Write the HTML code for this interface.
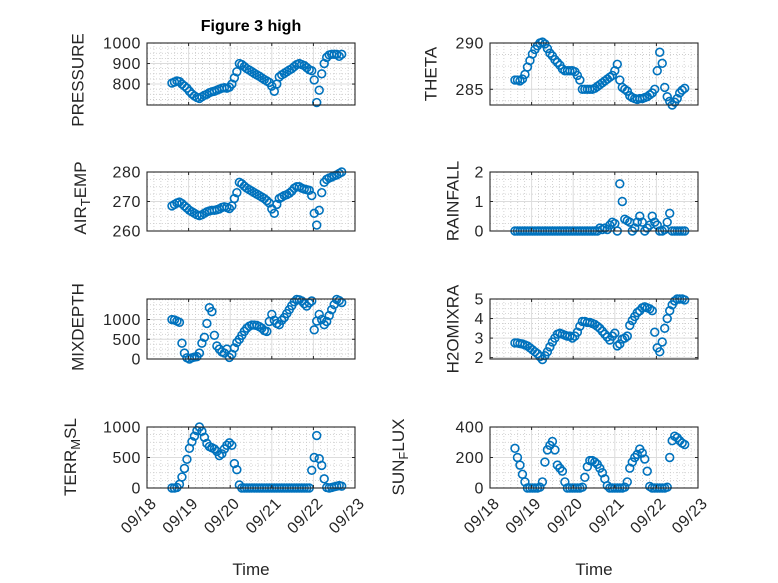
<!DOCTYPE html>
<html><head><meta charset="utf-8"><style>
html,body{margin:0;padding:0;background:#fff}
svg{display:block;font-family:"Liberation Sans",sans-serif}
</style></head><body>
<svg id="fig" width="778" height="583" viewBox="0 0 778 583" xmlns="http://www.w3.org/2000/svg">
<rect width="778" height="583" fill="#fff"/>
<text x="251" y="31" text-anchor="middle" font-size="16" font-weight="bold" fill="#000">Figure 3 high</text>
</svg>
<script>
const times = [0.60,0.66,0.72,0.78,0.84,0.90,0.96,1.02,1.08,1.14,1.20,1.26,1.32,1.38,1.44,1.50,1.56,1.62,1.68,1.74,1.80,1.86,1.92,1.98,2.04,2.10,2.16,2.22,2.28,2.34,2.40,2.46,2.52,2.58,2.64,2.70,2.76,2.82,2.88,2.94,3.00,3.06,3.12,3.18,3.24,3.30,3.36,3.42,3.48,3.54,3.60,3.66,3.72,3.78,3.84,3.90,3.96,4.02,4.08,4.14,4.20,4.26,4.32,4.38,4.44,4.50,4.56,4.62,4.68];
const xTickLabels = ["09/18","09/19","09/20","09/21","09/22","09/23"];
const pressure = [805,810,815,812,800,790,780,765,752,742,735,730,738,745,750,758,762,765,770,775,780,782,780,785,800,830,860,900,895,885,875,868,860,852,845,838,830,822,815,808,790,765,800,835,845,852,860,868,875,885,895,900,895,890,880,870,865,820,710,770,850,900,930,942,945,945,945,935,945];
const theta = [286,286,285.9,286.1,286.6,287.4,288.1,288.8,289.3,289.7,290,290.1,289.9,289.4,288.9,288.6,288.2,287.9,287.6,287.2,287,287,287,287,286.9,286.5,286,285,285,285,285,285,285.1,285.3,285.5,285.7,285.9,286.1,286.3,286.5,287,287.7,286,285.2,285,284.8,284.3,284.1,284,283.9,284,284,284.1,284.2,284.4,284.6,285,287,289,287.8,285.2,284.2,283.7,283.3,283.6,284,284.6,284.9,285.1];
const airTemp = [268.5,269,269.5,269.8,269.3,268.5,267.8,267,266.5,266,265.5,265.2,265.5,266,266.5,266.8,267,267,267.2,267.5,268,268.2,268,267.6,268.5,271,273,276.5,276,275.2,274.5,274,273.5,273,272.5,272,271.5,271,270.3,269.5,267.5,266,269,271,271.5,272,272.3,272.8,273.5,274.5,275,275,274.5,274.2,274,273.8,272,266,262,267,273,276.5,277.5,278,278.3,278.7,279,279.5,280];
const rainfall = [0,0,0,0,0,0,0,0,0,0,0,0,0,0,0,0,0,0,0,0,0,0,0,0,0,0,0,0,0,0,0,0,0,0,0.1,0.05,0.1,0.05,0.2,0.3,0.25,0,1.6,1.0,0.4,0.35,0.3,0,0.1,0.3,0.5,0.3,0,0.1,0.2,0.5,0.3,0.2,0,0,0.05,0.3,0.6,0,0,0,0,0,0];
const mixDepth = [1000,990,960,930,400,150,30,0,30,50,60,150,400,550,900,1300,1200,600,330,250,180,150,250,40,120,280,420,500,600,700,780,830,860,860,850,820,780,720,700,950,1130,980,900,870,980,1050,1150,1250,1350,1450,1510,1500,1470,1400,1340,1420,1470,740,960,1130,1000,870,950,1100,1250,1380,1510,1480,1430];
const h2oMixRa = [2.75,2.75,2.72,2.7,2.65,2.6,2.5,2.4,2.3,2.2,2.05,1.9,2.1,2.3,2.55,2.8,3.0,3.2,3.25,3.2,3.15,3.1,3.1,3.0,3.1,3.3,3.6,3.85,3.85,3.8,3.8,3.75,3.7,3.6,3.5,3.35,3.2,3.05,2.9,3.1,3.25,2.6,2.7,2.95,3.0,3.1,3.65,3.9,4.1,4.3,4.4,4.55,4.6,4.55,4.5,4.4,3.3,2.5,2.3,2.8,3.5,4.0,4.4,4.7,4.9,5.0,5.0,5.0,4.95];
const terrMsl = [0,0,10,60,180,320,470,650,760,850,940,1000,930,830,730,680,660,640,600,530,560,640,700,740,700,400,300,50,0,0,0,0,0,0,0,0,0,0,0,0,0,0,0,0,0,0,0,0,0,0,0,0,0,0,0,0,290,500,860,480,370,150,10,0,10,20,30,40,30];
const sunFlux = [260,200,150,90,40,0,0,0,0,0,5,40,170,250,280,305,250,150,130,110,40,0,0,0,0,0,0,5,70,140,180,180,170,155,130,100,60,15,0,0,0,0,0,0,5,40,130,170,200,220,255,230,190,110,10,0,0,0,0,0,0,5,200,310,340,330,310,295,285];

const svg = document.getElementById('fig');
const NS = 'http://www.w3.org/2000/svg';
function mk(tag, attrs, parent){const e=document.createElementNS(NS,tag);for(const k in attrs)e.setAttribute(k,attrs[k]);(parent||svg).appendChild(e);return e;}

function panel(cfg){
  const {x0,x1,y0,y1,ymin,ymax,yticks,data,name,label,lx,ly,xlab,ysub} = cfg;
  const g = mk('g',{});
  
  
  const sx = t => x0 + (t-0)/(5-0)*(x1-x0);
  const sy = v => y1 - (v-ymin)/(ymax-ymin)*(y1-y0);
  for(let d=0; d<5; d++) for(let k=1;k<6;k++){
    const x=sx(d+k/6);
    mk('line',{x1:x,x2:x,y1:y0,y2:y1,stroke:'#c8c8c8','stroke-width':0.8,'stroke-dasharray':'1 2'},g);
  }
  const ystep = yticks[1]-yticks[0];
  for(let v=yticks[0]-ystep; v<=ymax+1e-9; v+=ystep/4){
    if(v<ymin-1e-9) continue;
    const y=sy(v);
    mk('line',{x1:x0,x2:x1,y1:y,y2:y,stroke:'#c8c8c8','stroke-width':0.8,'stroke-dasharray':'1 2'},g);
  }
  for(let d=1; d<5; d++){const x=sx(d);mk('line',{x1:x,x2:x,y1:y0,y2:y1,stroke:'#dcdcdc','stroke-width':1},g);}
  yticks.forEach(v=>{const y=sy(v);if(y>y0+0.5&&y<y1-0.5)mk('line',{x1:x0,x2:x1,y1:y,y2:y,stroke:'#dcdcdc','stroke-width':1},g);});
  const mg = mk('g',{fill:'none',stroke:'#0072BD','stroke-width':1.6},g);
  
  
  times.forEach((t,i)=>{
    const c = mk('circle',{cx:sx(t),cy:sy(data[i]),r:3.9},mg);
    
    
  });
  mk('rect',{x:x0,y:y0,width:x1-x0,height:y1-y0,fill:'none',stroke:'#262626','stroke-width':1.1},g);
  for(let d=0; d<=5; d++){const x=sx(d);
    mk('line',{x1:x,x2:x,y1:y1,y2:y1-3,stroke:'#262626'},g);
    mk('line',{x1:x,x2:x,y1:y0,y2:y0+3,stroke:'#262626'},g);}
  yticks.forEach(v=>{const y=sy(v);
    mk('line',{x1:x0,x2:x0+3,y1:y,y2:y,stroke:'#262626'},g);
    mk('line',{x1:x1,x2:x1-3,y1:y,y2:y,stroke:'#262626'},g);
    const tx = mk('text',{x:x0-6,y:y+5.5,'text-anchor':'end','font-size':16,fill:'#262626','letter-spacing':'0.6'},g);
    tx.textContent = String(v);
    
    
  });
  if(xlab){
    xTickLabels.forEach((s,d)=>{
      const x=sx(d)+3, y=y1+9;
      const tx = mk('text',{x:x,y:y,'text-anchor':'end','font-size':16,fill:'#262626','letter-spacing':'0.5',transform:`rotate(-45 ${x} ${y})`,'dominant-baseline':'hanging'},g);
      tx.textContent = s;
      
      
    });
    const tl = mk('text',{x:(x0+x1)/2,y:575,'text-anchor':'middle','font-size':17,fill:'#262626'},g);
    tl.textContent='Time';
    
    
  }
  const yl = mk('text',{x:lx,y:ly,'text-anchor':'middle','font-size':17,fill:'#262626','dominant-baseline':'central',transform:`rotate(-90 ${lx} ${ly})`},g);
  
  
  if(ysub){
    const a=mk('tspan',{},yl);a.textContent=ysub[0];
    const b=mk('tspan',{dy:5,'font-size':13},yl);b.textContent=ysub[1];
    const c=mk('tspan',{dy:-5},yl);c.textContent=ysub[2];
  } else yl.textContent = label;
}

const L0=147,L1=355,R0=490,R1=698;
panel({x0:L0,x1:L1,y0:43,y1:105,ymin:698,ymax:1000,yticks:[800,900,1000],data:pressure,name:'pressure',label:'PRESSURE',lx:78,ly:80});
panel({x0:R0,x1:R1,y0:43,y1:105,ymin:283.3,ymax:290,yticks:[285,290],data:theta,name:'theta',label:'THETA',lx:431,ly:74});
panel({x0:L0,x1:L1,y0:172,y1:231,ymin:260,ymax:280,yticks:[260,270,280],data:airTemp,name:'air-temp',lx:80,ly:198,ysub:['AIR','T','EMP']});
panel({x0:R0,x1:R1,y0:172,y1:231,ymin:0,ymax:2,yticks:[0,1,2],data:rainfall,name:'rainfall',label:'RAINFALL',lx:453,ly:201});
panel({x0:L0,x1:L1,y0:299,y1:359,ymin:0,ymax:1520,yticks:[0,500,1000],data:mixDepth,name:'mixdepth',label:'MIXDEPTH',lx:78,ly:327});
panel({x0:R0,x1:R1,y0:299,y1:359,ymin:1.93,ymax:5,yticks:[2,3,4,5],data:h2oMixRa,name:'h2omixra',label:'H2OMIXRA',lx:453,ly:329});
panel({x0:L0,x1:L1,y0:427,y1:488,ymin:0,ymax:1000,yticks:[0,500,1000],data:terrMsl,name:'terr-msl',lx:70,ly:457,ysub:['TERR','M','SL'],xlab:true});
panel({x0:R0,x1:R1,y0:427,y1:488,ymin:0,ymax:400,yticks:[0,200,400],data:sunFlux,name:'sun-flux',lx:398,ly:457,ysub:['SUN','F','LUX'],xlab:true});
</script>
</body></html>
